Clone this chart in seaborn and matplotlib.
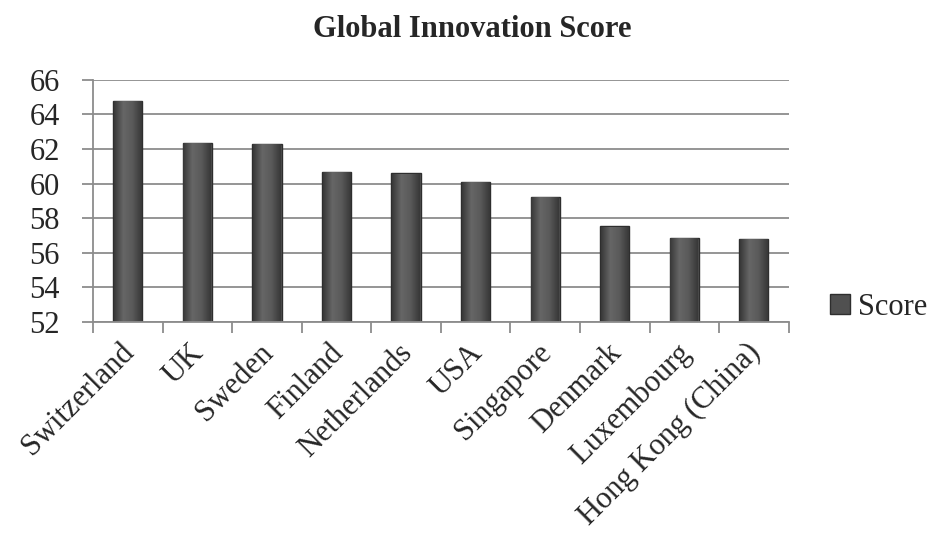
import numpy as np
import pandas as pd
import matplotlib
matplotlib.use("Agg")
import matplotlib.pyplot as plt
import matplotlib.transforms as mtransforms
from matplotlib.colors import LinearSegmentedColormap
import seaborn as sns

countries = ["Switzerland", "UK", "Sweden", "Finland", "Netherlands", "USA",
             "Singapore", "Denmark", "Luxembourg", "Hong Kong (China)"]
scores = [64.78, 62.37, 62.29, 60.67, 60.59, 60.09, 59.24, 57.52, 56.86, 56.82]
y_ticks = [52, 54, 56, 58, 60, 62, 64, 66]

df = pd.DataFrame({"country": countries, "score": scores})

sns.set_style("white")
plt.rcParams['font.family'] = ['Liberation Serif', 'DejaVu Serif']

fig = plt.figure(figsize=(9.3, 5.4), dpi=100)
ax = fig.add_axes([0.1, 0.404, 0.748, 0.448])

sns.barplot(data=df, x="country", y="score", color="#505050", width=0.42,
            edgecolor="#2e2e2e", linewidth=1.0, saturation=1, ax=ax,
            label="Score")
ax.set_ylim(y_ticks[0], y_ticks[-1])
ax.set_yticks(y_ticks)
ax.set_xlim(-0.5, len(countries) - 0.5)

# shaded look on the bars (only the visible part above the axis floor)
grad = LinearSegmentedColormap.from_list("bar", ["#383838", "#666666", "#5a5a5a", "#383838"])
shade = np.linspace(0, 1, 64).reshape(1, -1)
floor = ax.get_ylim()[0]
for p in list(ax.patches):
    x0, w, top = p.get_x(), p.get_width(), p.get_y() + p.get_height()
    ax.imshow(shade, cmap=grad, aspect="auto", zorder=p.get_zorder() + 0.1,
              extent=(x0 + 0.01, x0 + w - 0.01, floor, top - 0.04))
ax.set_xlim(-0.5, len(countries) - 0.5)
ax.set_ylim(y_ticks[0], y_ticks[-1])

ax.yaxis.grid(True, color="#8c8c8c", linewidth=1.3)
ax.set_axisbelow(True)
for s in ["top", "right"]:
    ax.spines[s].set_visible(False)
for s in ["left", "bottom"]:
    ax.spines[s].set_color("#8c8c8c")
    ax.spines[s].set_linewidth(1.3)
    ax.spines[s].set_zorder(5)

ax.set_xlabel("")
ax.set_ylabel("")
ax.tick_params(axis="y", length=8, width=1.3, color="#8c8c8c", labelsize=22, left=True, pad=16)
ax.set_xticks(np.arange(len(countries)))
ax.set_xticklabels(countries, rotation=45, ha="right", rotation_mode="anchor", fontsize=22)
ax.tick_params(axis="x", which="major", length=0, pad=8)
shift = mtransforms.ScaledTranslation(-0.08, -0.05, fig.dpi_scale_trans)
for lbl in ax.get_xticklabels():
    lbl.set_transform(lbl.get_transform() + shift)
ax.set_xticks(np.arange(-0.5, len(countries)), minor=True)
ax.tick_params(axis="x", which="minor", length=8, width=1.3, color="#8c8c8c", bottom=True)

ax.legend(loc="center left", bbox_to_anchor=(1.02, 0.06), frameon=False,
          fontsize=22, handlelength=0.65, handleheight=0.65, handletextpad=0.25)

fig.suptitle("Global Innovation Score", x=0.508, y=0.972, fontsize=22, fontweight="bold")

fig.savefig("out.png", dpi=100)
